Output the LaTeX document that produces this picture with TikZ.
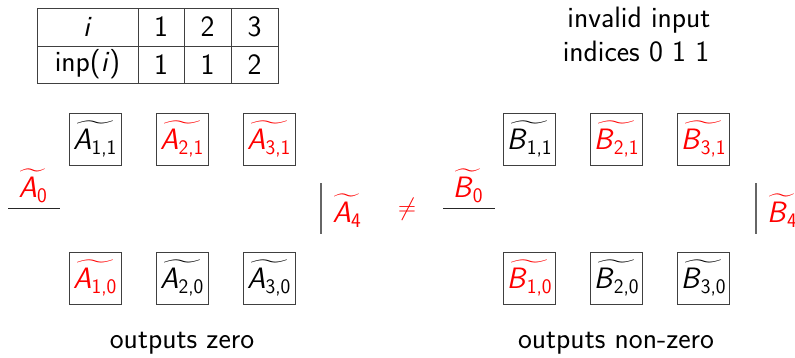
\documentclass[tikz,border=0pt]{standalone}
\usepackage{amsmath}
\usetikzlibrary{positioning}
\newcommand{\sfit}[1]{\textsf{\textit{#1}}}
\newcommand{\tX}[2]{\ensuremath{\widetilde{\sfit{#1}_{\textsf{#2}}}}}
\tikzset{
  cell/.style={draw=black!75, line width=0.8pt, minimum width=52pt, minimum height=52pt, inner sep=0pt},
  lab/.style={inner sep=0pt, font=\fontsize{29.5}{35}\selectfont\sffamily},
  hot/.style={text=red},
  sep/.style={draw=black!60, line width=1.2pt},
  frac/.style={draw=black!85, line width=0.9pt},
  grid/.style={draw=black!75, line width=0.8pt}
}
\begin{document}
\begin{tikzpicture}[x=1pt,y=-1pt]
\useasboundingbox (0,0) rectangle (795,357);
% table
\draw[grid] (37,8) rectangle (278,83);
\draw[grid] (37,46) -- (278,46);
\foreach \xx in {138,184,231} \draw[grid] (\xx,8) -- (\xx,83);
\node[lab] (ti) at (87.5,27) {\sfit{i}};
\node[lab] (t11) at (161,27) {1};
\node[lab] (t12) at (207.5,27) {2};
\node[lab] (t13) at (254.5,27) {3};
\node[lab] (tinp) at (87.5,64.5) {inp(\sfit{i})};
\node[lab] (t21) at (161,64.5) {1};
\node[lab] (t22) at (207.5,64.5) {1};
\node[lab] (t23) at (254.5,64.5) {2};
% caption right
\node[lab] (inv1) at (639,20) {invalid input};
\node[lab] (inv2) at (636,51) {indices 0 1 1};
% A side
\node[lab,cell] (a11) at (95,139) {\tX{A}{1,1}};
\node[lab,cell,hot] (a21) at (182,139) {\tX{A}{2,1}};
\node[lab,cell,hot] (a31) at (269,139) {\tX{A}{3,1}};
\node[lab,cell,hot] (a10) at (95,278) {\tX{A}{1,0}};
\node[lab,cell] (a20) at (182,278) {\tX{A}{2,0}};
\node[lab,cell] (a30) at (269,278) {\tX{A}{3,0}};
\node[lab,hot] (a0) at (33,186) {\tX{A}{0}};
\coordinate (a0l) at (8,208);
\coordinate (a0r) at (60,208);
\draw[frac] (a0l) -- (a0r);
\coordinate (a4t) at (321,183);
\coordinate (a4b) at (321,234);
\draw[sep] (a4t) -- (a4b);
\node[lab,hot] (a4) at (347,211) {\tX{A}{4}};
\node[lab,hot] (neq) at (407,209) {$\neq$};
% B side
\node[lab,cell] (b11) at (529.5,139) {\tX{B}{1,1}};
\node[lab,cell,hot] (b21) at (616.5,139) {\tX{B}{2,1}};
\node[lab,cell,hot] (b31) at (703.5,139) {\tX{B}{3,1}};
\node[lab,cell,hot] (b10) at (529.5,278) {\tX{B}{1,0}};
\node[lab,cell] (b20) at (616.5,278) {\tX{B}{2,0}};
\node[lab,cell] (b30) at (703.5,278) {\tX{B}{3,0}};
\node[lab,hot] (b0) at (468,186) {\tX{B}{0}};
\coordinate (b0l) at (443,208);
\coordinate (b0r) at (495,208);
\draw[frac] (b0l) -- (b0r);
\coordinate (b4t) at (756,183);
\coordinate (b4b) at (756,234);
\draw[sep] (b4t) -- (b4b);
\node[lab,hot,anchor=west] (b4) at (767,211) {\tX{B}{4}};
% captions
\node[lab] (oz) at (182,343) {outputs zero};
\node[lab] (onz) at (616,343) {outputs non-zero};
\end{tikzpicture}
\end{document}
